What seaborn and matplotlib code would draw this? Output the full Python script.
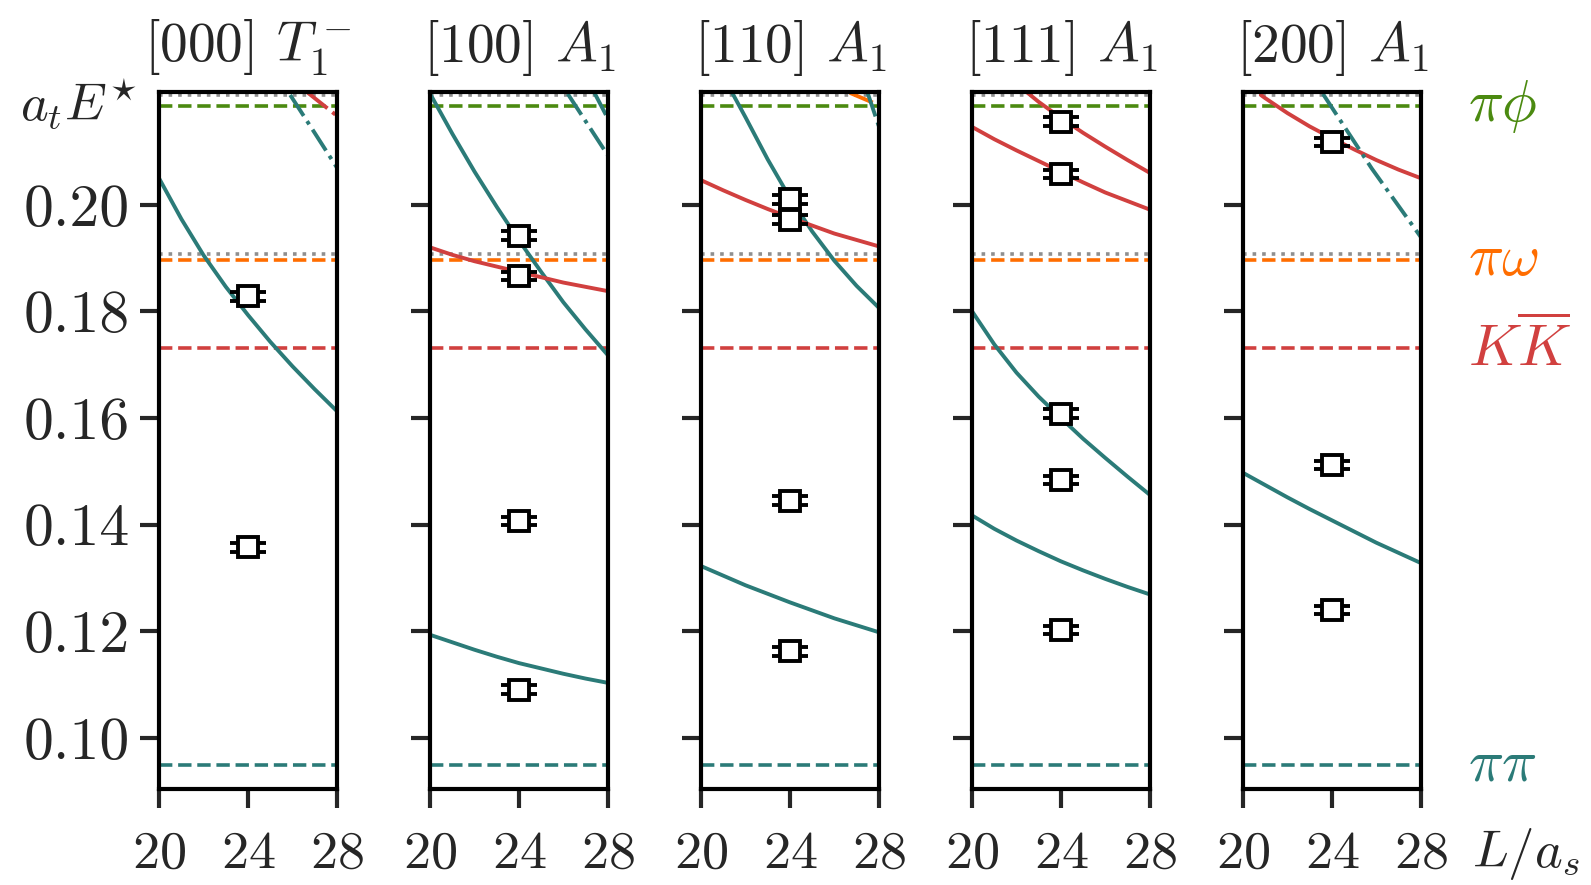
import matplotlib
matplotlib.use("Agg")
import matplotlib.pyplot as plt
import matplotlib.transforms as mtransforms
from matplotlib.ticker import FormatStrFormatter
import seaborn as sns

# --- data ---------------------------------------------------------------
L9 = [20, 21, 22, 23, 24, 25, 26, 27, 28]

panel_titles = [r"[000] $T_1^-$", r"[100] $A_1$", r"[110] $A_1$", r"[111] $A_1$", r"[200] $A_1$"]

# thresholds
thr_labels = [r"$\pi\pi$", r"$K\overline{K}$", r"$\pi\omega$", r"$\pi\phi$"]
thr_E = [0.0948, 0.1732, 0.1896, 0.2185]
dotted_E = [0.1907, 0.2206]

# [000] T1-
p000_teal_E = [0.2049, 0.1973, 0.1905, 0.1846, 0.1793, 0.1743, 0.1697, 0.1654, 0.1613]
p000_tealdd_L = [25.9, 27, 28]
p000_tealdd_E = [0.2206, 0.2135, 0.2070]
p000_reddd_L = [26.7, 28]
p000_reddd_E = [0.2210, 0.2167]
p000_levels = [0.1828, 0.1357]

# [100] A1
p100_teal1_E = [0.2208, 0.2133, 0.2062, 0.1996, 0.1933, 0.1874, 0.1817, 0.1766, 0.1718]
p100_teal2_E = [0.1193, 0.1179, 0.1165, 0.1152, 0.1140, 0.1130, 0.1120, 0.1111, 0.1103]
p100_red_E = [0.1920, 0.1906, 0.1894, 0.1884, 0.1874, 0.1864, 0.1854, 0.1846, 0.1838]
p100_tealdd1_L = [26.2, 28]
p100_tealdd1_E = [0.2208, 0.2093]
p100_tealdd2_L = [27.4, 28]
p100_tealdd2_E = [0.2210, 0.2162]
p100_levels = [0.1942, 0.1866, 0.1407, 0.1090]

# [110] A1
p110_teal1_L = [21.4, 22, 23, 24, 25, 26, 27, 28]
p110_teal1_E = [0.2210, 0.2164, 0.2085, 0.2013, 0.1950, 0.1895, 0.1848, 0.1807]
p110_teal2_E = [0.1322, 0.1304, 0.1286, 0.1270, 0.1254, 0.1239, 0.1224, 0.1211, 0.1198]
p110_red_E = [0.2046, 0.2027, 0.2009, 0.1992, 0.1976, 0.1961, 0.1946, 0.1934, 0.1922]
p110_orangedd_L = [26.7, 28]
p110_orangedd_E = [0.2210, 0.2187]
p110_tealdd_L = [27.5, 28]
p110_tealdd_E = [0.2210, 0.2148]
p110_levels = [0.2010, 0.1972, 0.1445, 0.1162]

# [111] A1
p111_red1_L = [22.5, 23, 24, 25, 26, 27, 28]
p111_red1_E = [0.2210, 0.2193, 0.2163, 0.2135, 0.2109, 0.2084, 0.2060]
p111_red2_E = [0.2146, 0.2123, 0.2102, 0.2082, 0.2062, 0.2042, 0.2023, 0.2007, 0.1991]
p111_teal1_E = [0.1800, 0.1738, 0.1685, 0.1640, 0.1600, 0.1561, 0.1525, 0.1490, 0.1456]
p111_teal2_E = [0.1417, 0.1392, 0.1370, 0.1350, 0.1331, 0.1314, 0.1298, 0.1283, 0.1269]
p111_levels = [0.2156, 0.2058, 0.1608, 0.1484, 0.1202]

# [200] A1
p200_red_L = [20.8, 21, 22, 23, 24, 25, 26, 27, 28]
p200_red_E = [0.2206, 0.2200, 0.2172, 0.2147, 0.2125, 0.2104, 0.2084, 0.2066, 0.2050]
p200_tealdd_L = [23.6, 25.8, 28]
p200_tealdd_E = [0.2208, 0.2068, 0.1940]
p200_teal_E = [0.1497, 0.1474, 0.1451, 0.1429, 0.1408, 0.1387, 0.1366, 0.1347, 0.1328]
p200_levels = [0.2118, 0.1512, 0.1240]

level_L = 24
level_err = 0.0008

# --- style -----------------------------------------------------------------
teal = "#2b7b78"
red = "#d1403f"
orange = "#ff6d00"
green = "#4b8a10"
gray = "#8f8f8f"
thr_colors = [teal, red, orange, green]

sns.set_style("ticks")
plt.rcParams.update({
    "font.family": "serif",
    "font.serif": ["cmr10"],
    "mathtext.fontset": "cm",
    "axes.formatter.use_mathtext": True,
    "font.size": 20,
    "axes.linewidth": 1.5,
    "xtick.major.width": 1.5,
    "ytick.major.width": 1.5,
    "xtick.major.size": 7,
    "ytick.major.size": 7,
    "xtick.direction": "out",
    "ytick.direction": "out",
    "xtick.major.pad": 8,
    "ytick.major.pad": 3.5,
    "xtick.labelsize": 19.5,
    "ytick.labelsize": 21.5,
    "axes.edgecolor": "black",
})

curves = [
    [(L9, p000_teal_E, teal, "-"), (p000_tealdd_L, p000_tealdd_E, teal, "-."),
     (p000_reddd_L, p000_reddd_E, red, "-.")],
    [(L9, p100_teal1_E, teal, "-"), (L9, p100_teal2_E, teal, "-"), (L9, p100_red_E, red, "-"),
     (p100_tealdd1_L, p100_tealdd1_E, teal, "-."), (p100_tealdd2_L, p100_tealdd2_E, teal, "-.")],
    [(p110_teal1_L, p110_teal1_E, teal, "-"), (L9, p110_teal2_E, teal, "-"), (L9, p110_red_E, red, "-"),
     (p110_orangedd_L, p110_orangedd_E, orange, "-."), (p110_tealdd_L, p110_tealdd_E, teal, "-.")],
    [(p111_red1_L, p111_red1_E, red, "-"), (L9, p111_red2_E, red, "-"),
     (L9, p111_teal1_E, teal, "-"), (L9, p111_teal2_E, teal, "-")],
    [(p200_red_L, p200_red_E, red, "-"), (p200_tealdd_L, p200_tealdd_E, teal, "-."),
     (L9, p200_teal_E, teal, "-")],
]
levels = [p000_levels, p100_levels, p110_levels, p111_levels, p200_levels]

fig = plt.figure(figsize=(1591 / 200, 885 / 200), dpi=200)
axes = []
for i in range(5):
    ax = fig.add_axes([0.1001 + i * 0.1703, 0.108, 0.1116, 0.7877])
    axes.append(ax)

    for e in dotted_E:
        ax.axhline(e, color=gray, linestyle=":", lw=1.3, zorder=1)
    for e, c in zip(thr_E, thr_colors):
        ax.axhline(e, color=c, linestyle="--", lw=1.3, zorder=1)

    for xs, ys, c, ls in curves[i]:
        sns.lineplot(x=xs, y=ys, ax=ax, color=c, linestyle=ls, lw=1.4, zorder=2)

    lv = levels[i]
    ax.errorbar([level_L] * len(lv), lv, yerr=level_err, fmt="s", ms=7.5,
                mfc="white", mec="black", mew=1.4, ecolor="black",
                elinewidth=1.3, capsize=6.5, capthick=1.3, zorder=5)

    ax.set_xlim(20, 28)
    ax.set_ylim(0.0903, 0.2211)
    ax.set_xticks([20, 24, 28])
    ax.set_yticks([0.10, 0.12, 0.14, 0.16, 0.18, 0.20])
    ax.yaxis.set_major_formatter(FormatStrFormatter("%.2f"))
    if i > 0:
        ax.tick_params(axis="y", labelleft=False)
    ax.set_xlabel("")
    ax.set_ylabel("")
    ax.set_title(panel_titles[i], fontsize=20, pad=11)

# axis labels
trans0 = mtransforms.blended_transform_factory(axes[0].transAxes, axes[0].transData)
axes[0].text(-0.125, 0.2190, r"$a_tE^{\!\star}$", transform=trans0, ha="right", va="center", fontsize=19)

trans4 = mtransforms.blended_transform_factory(axes[4].transAxes, axes[4].transData)
for lab, e, c in zip(thr_labels, thr_E, thr_colors):
    axes[4].text(1.265, e, lab, transform=trans4, ha="left", va="center", color=c, fontsize=21)

axes[4].text(1.29, -0.111, r"$L/a_s$", transform=axes[4].transAxes, ha="left", va="baseline", fontsize=19)

fig.savefig("out.png", dpi=200)
